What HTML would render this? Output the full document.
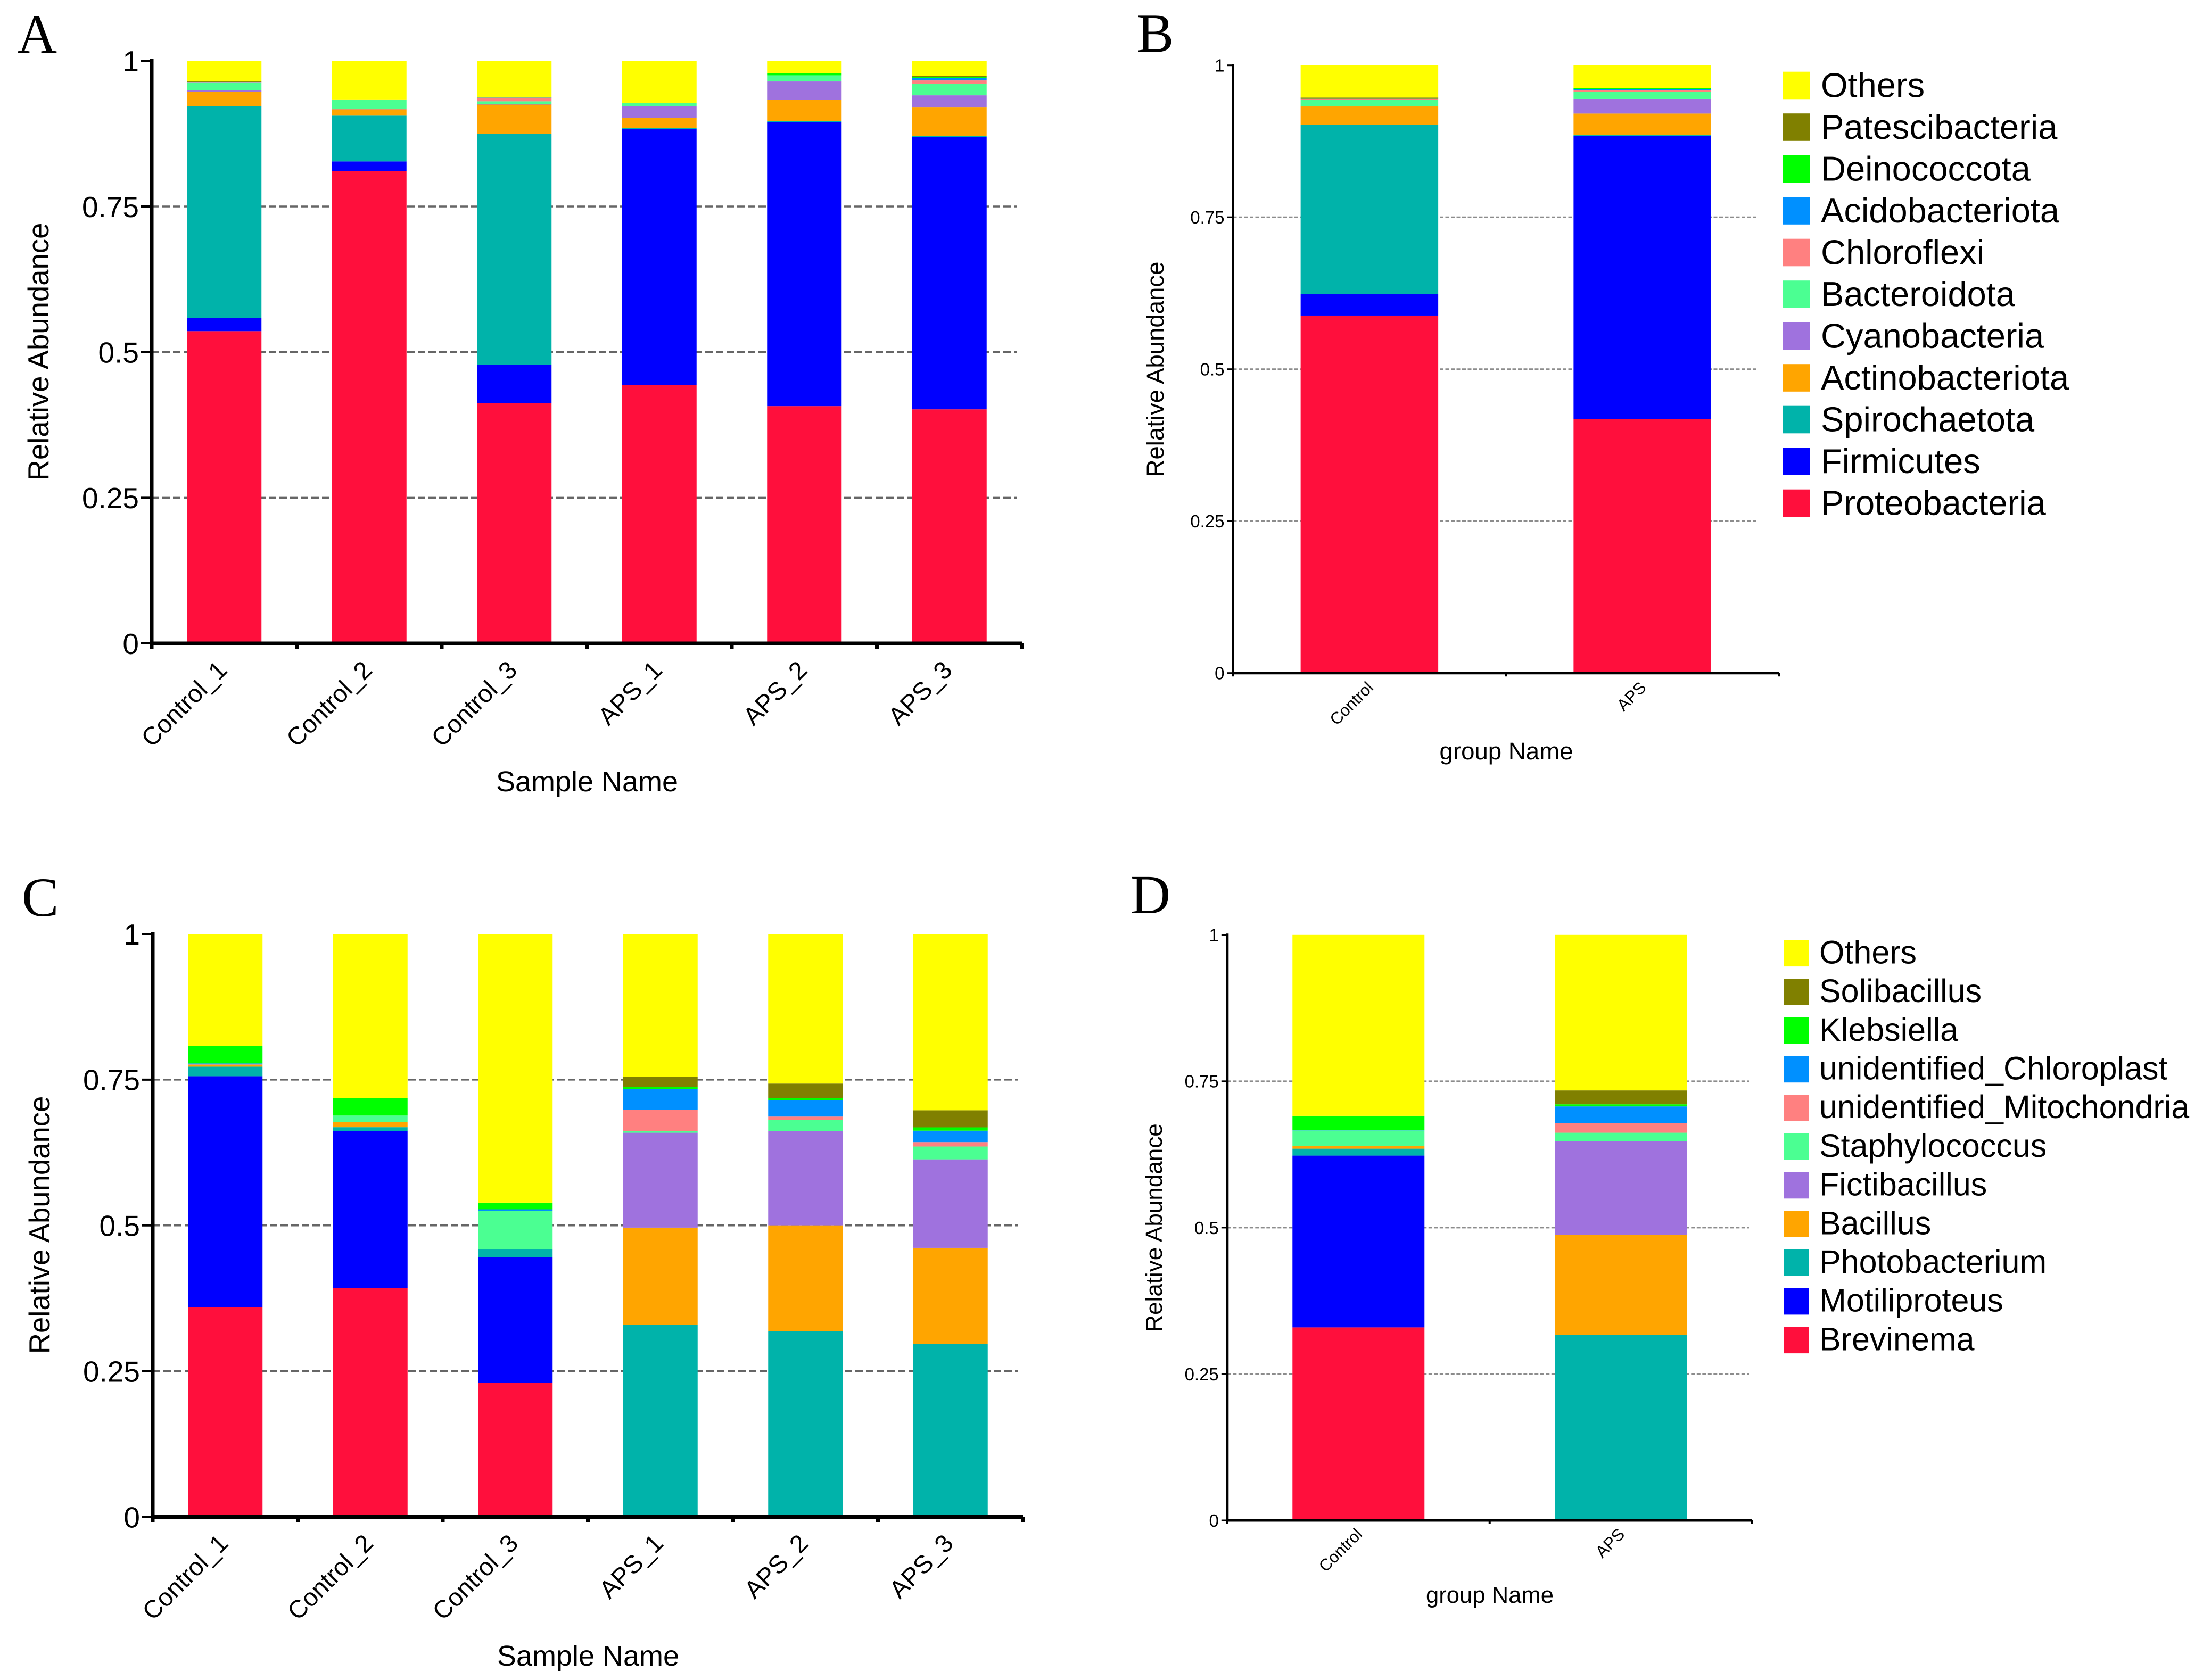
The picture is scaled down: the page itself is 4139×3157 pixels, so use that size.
<!DOCTYPE html>
<html lang="en">
<head>
<meta charset="utf-8">
<title>Relative abundance stacked bar charts</title>
<style>
html,body{margin:0;padding:0;background:#fff;}
body{width:4139px;height:3157px;overflow:hidden;}
svg{display:block;}
text{font-family:"Liberation Sans",Arial,sans-serif;fill:#000;}
.panel-letter{font-family:"Liberation Serif","Times New Roman",serif;}
</style>
</head>
<body>
<svg id="figure" xmlns="http://www.w3.org/2000/svg" width="4139" height="3157" viewBox="0 0 4139 3157"></svg>
<script>
// ---------- shared ----------
const yTickValues = [0, 0.25, 0.5, 0.75, 1];
const yTickLabels = ['0', '0.25', '0.5', '0.75', '1'];
const sampleNames = ['Control_1', 'Control_2', 'Control_3', 'APS_1', 'APS_2', 'APS_3'];
const groupNames = ['Control', 'APS'];
const seriesColors = ['#ff0f3c', '#0000ff', '#00b3aa', '#ffa500', '#9f72de', '#4bff92', '#ff8080', '#0090ff', '#00ff00', '#808000', '#ffff00'];
const phylumNames = ['Proteobacteria', 'Firmicutes', 'Spirochaetota', 'Actinobacteriota', 'Cyanobacteria', 'Bacteroidota', 'Chloroflexi', 'Acidobacteriota', 'Deinococcota', 'Patescibacteria', 'Others'];
const genusNames = ['Brevinema', 'Motiliproteus', 'Photobacterium', 'Bacillus', 'Fictibacillus', 'Staphylococcus', 'unidentified_Mitochondria', 'unidentified_Chloroplast', 'Klebsiella', 'Solibacillus', 'Others'];

// ---------- panel A: phylum by sample ----------
const aProteobacteria = [0.536, 0.811, 0.4127, 0.4436, 0.4073, 0.4018];
const aFirmicutes = [0.023, 0.0164, 0.0653, 0.4389, 0.488, 0.4679];
const aSpirochaetota = [0.3634, 0.0786, 0.3969, 0.002, 0.0018, 0.0016];
const aActinobacteriota = [0.0243, 0.0109, 0.0501, 0.0178, 0.0365, 0.0486];
const aCyanobacteria = [0.003, 0.0005, 0.0006, 0.0201, 0.0311, 0.021];
const aBacteroidota = [0.0125, 0.0162, 0.005, 0.0057, 0.0106, 0.0202];
const aChloroflexi = [0.0005, 0.0002, 0.0061, 0, 0, 0.0054];
const aAcidobacteriota = [0.0003, 0, 0.0002, 0, 0, 0.0046];
const aDeinococcota = [0.0002, 0, 0.0002, 0, 0.004, 0.001];
const aPatescibacteria = [0.0015, 0, 0.0002, 0, 0, 0.002];
const aOthers = [0.0353, 0.0662, 0.0627, 0.0719, 0.0207, 0.0259];

// ---------- panel B: phylum by group ----------
const bProteobacteria = [0.5882, 0.418];
const bFirmicutes = [0.035, 0.4655];
const bSpirochaetota = [0.2791, 0.0015];
const bActinobacteriota = [0.03, 0.0356];
const bCyanobacteria = [0.0003, 0.024];
const bBacteroidota = [0.0103, 0.0116];
const bChloroflexi = [0.0018, 0.003];
const bAcidobacteriota = [0.0001, 0.002];
const bDeinococcota = [0.0001, 0.0012];
const bPatescibacteria = [0.002, 0.0002];
const bOthers = [0.0531, 0.0374];

// ---------- panel C: genus by sample ----------
const cBrevinema = [0.3599, 0.3926, 0.2303, 0, 0, 0];
const cMotiliproteus = [0.396, 0.2689, 0.2148, 0, 0, 0];
const cPhotobacterium = [0.0164, 0.007, 0.0145, 0.3291, 0.3182, 0.2965];
const cBacillus = [0.0035, 0.0088, 0, 0.1671, 0.1819, 0.165];
const cFictibacillus = [0.0005, 0.0002, 0, 0.1628, 0.1614, 0.1518];
const cStaphylococcus = [0.0005, 0.011, 0.0656, 0.0031, 0.0192, 0.022];
const cMitochondria = [0.0005, 0, 0, 0.0359, 0.006, 0.0076];
const cChloroplast = [0.0006, 0, 0.0024, 0.036, 0.028, 0.0196];
const cKlebsiella = [0.0304, 0.0298, 0.0115, 0.0037, 0.0036, 0.0057];
const cSolibacillus = [0, 0, 0, 0.0172, 0.025, 0.0293];
const cOthers = [0.1917, 0.2817, 0.4609, 0.2451, 0.2567, 0.3025];

// ---------- panel D: genus by group ----------
const dBrevinema = [0.3296, 0];
const dMotiliproteus = [0.2934, 0];
const dPhotobacterium = [0.0118, 0.3166];
const dBacillus = [0.0049, 0.1713];
const dFictibacillus = [0, 0.1594];
const dStaphylococcus = [0.0263, 0.0148];
const dMitochondria = [0, 0.0164];
const dChloroplast = [0.001, 0.0285];
const dKlebsiella = [0.0239, 0.0036];
const dSolibacillus = [0, 0.0237];
const dOthers = [0.3091, 0.2657];

const aSeries = [aProteobacteria, aFirmicutes, aSpirochaetota, aActinobacteriota, aCyanobacteria, aBacteroidota, aChloroflexi, aAcidobacteriota, aDeinococcota, aPatescibacteria, aOthers];
const bSeries = [bProteobacteria, bFirmicutes, bSpirochaetota, bActinobacteriota, bCyanobacteria, bBacteroidota, bChloroflexi, bAcidobacteriota, bDeinococcota, bPatescibacteria, bOthers];
const cSeries = [cBrevinema, cMotiliproteus, cPhotobacterium, cBacillus, cFictibacillus, cStaphylococcus, cMitochondria, cChloroplast, cKlebsiella, cSolibacillus, cOthers];
const dSeries = [dBrevinema, dMotiliproteus, dPhotobacterium, dBacillus, dFictibacillus, dStaphylococcus, dMitochondria, dChloroplast, dKlebsiella, dSolibacillus, dOthers];

const svg = document.getElementById('figure');
const NS = 'http://www.w3.org/2000/svg';

function make(tag, attrs, parent, content) {
  const node = document.createElementNS(NS, tag);
  for (const k in attrs) node.setAttribute(k, attrs[k]);
  if (content !== undefined) node.textContent = content;
  parent.appendChild(node);
  return node;
}
function kebab(s) {
  return s.toLowerCase().replace(/[^a-z0-9]+/g, '-');
}

function drawPanel(cfg) {
  const p = cfg.prefix;
  const g = make('g', {}, svg);
  
  

  const band = (cfg.x1 - cfg.x0) / cfg.categories.length;
  const xCenter = i => cfg.x0 + band * (i + 0.5) + (cfg.barShift || 0);
  const yPos = v => cfg.y0 - v * (cfg.y0 - cfg.yTop);

  const letter = make('text', { x: cfg.letterX, y: cfg.letterY, 'font-size': cfg.letterSize, class: 'panel-letter' }, g, cfg.letter);
  
  

  // gridlines
  yTickValues.forEach((v, i) => {
    if (v === 0 || v === 1) return;
    const line = make('line', { x1: cfg.x0, x2: cfg.gridEnd, y1: yPos(v), y2: yPos(v), stroke: cfg.gridColor, 'stroke-width': cfg.gridWidth, 'stroke-dasharray': cfg.gridDash }, g);
    
    
  });

  // stacked bars
  cfg.categories.forEach((cat, i) => {
    let cum = 0;
    cfg.series.forEach((values, s) => {
      const top = cum + values[i];
      const rect = make('rect', { x: xCenter(i) - cfg.barWidth / 2, y: yPos(top), width: cfg.barWidth, height: Math.max(0, yPos(cum) - yPos(top)), fill: seriesColors[s] }, g);
      
      
      cum = top;
    });
  });

  // axes
  const yAxis = make('line', { x1: cfg.x0, x2: cfg.x0, y1: cfg.yTop - cfg.axisWidth / 2, y2: cfg.y0 + cfg.axisWidth / 2, stroke: '#000', 'stroke-width': cfg.axisWidth }, g);
  
  
  const xAxis = make('line', { x1: cfg.x0 - cfg.axisWidth / 2, x2: cfg.x1, y1: cfg.y0, y2: cfg.y0, stroke: '#000', 'stroke-width': cfg.axisWidth }, g);
  
  

  // y ticks
  yTickValues.forEach((v, i) => {
    const tick = make('line', { x1: cfg.x0 - cfg.tickLen, x2: cfg.x0, y1: yPos(v), y2: yPos(v), stroke: '#000', 'stroke-width': cfg.tickWidth }, g);
    
    
    const label = make('text', { x: cfg.x0 - cfg.yLabelGap, y: yPos(v) + cfg.yTickSize * 0.36, 'font-size': cfg.yTickSize, 'text-anchor': 'end' }, g, yTickLabels[i]);
    
    
  });

  // x ticks
  for (let i = 0; i <= cfg.categories.length; i++) {
    const tx = cfg.x0 + band * i;
    const tick = make('line', { x1: tx, x2: tx, y1: cfg.y0, y2: cfg.y0 + cfg.axisWidth / 2 + cfg.xTickLen, stroke: '#000', 'stroke-width': cfg.xTickWidth }, g);
    
    
  }

  // x labels
  cfg.categories.forEach((cat, i) => {
    const lx = xCenter(i) + cfg.xLabelDx;
    const ly = cfg.xLabelY;
    const label = make('text', { x: lx, y: ly, 'font-size': cfg.xLabelSize, 'text-anchor': 'end', transform: 'rotate(-45 ' + lx + ' ' + ly + ')' }, g, cat);
    
    
  });

  // titles
  const xTitle = make('text', { x: cfg.xTitleX, y: cfg.xTitleY, 'font-size': cfg.xTitleSize, 'text-anchor': 'middle' }, g, cfg.xTitle);
  
  
  const yTitle = make('text', { x: cfg.yTitleX, y: cfg.yTitleY, 'font-size': cfg.yTitleSize, 'text-anchor': 'middle', transform: 'rotate(-90 ' + cfg.yTitleX + ' ' + cfg.yTitleY + ')' }, g, 'Relative Abundance');
  
  

  // legend
  if (cfg.legend) {
    const L = cfg.legend;
    const lg = make('g', {}, g);
    
    
    const n = cfg.names.length;
    for (let s = n - 1; s >= 0; s--) {
      const row = n - 1 - s;
      const swatch = make('rect', { x: L.x, y: L.y + row * L.pitch, width: L.size, height: L.sizeY, fill: seriesColors[s] }, lg);
      
      
      const label = make('text', { x: L.textX, y: L.y + row * L.pitch + L.baseline, 'font-size': L.fontSize }, lg, cfg.names[s]);
      
      
    }
  }
}

const sampleStyle = {
  barWidth: 140, axisWidth: 7, tickWidth: 4, xTickWidth: 7, tickLen: 20, xTickLen: 7, yLabelGap: 24, yTickSize: 55,
  gridColor: '#666', gridWidth: 3.5, gridDash: '14 6',
  xLabelSize: 47, xLabelDx: 8, xTitleSize: 54, yTitleSize: 54.5, letterSize: 104
};
const groupStyle = {
  axisWidth: 5, tickWidth: 3, xTickWidth: 4, tickLen: 11, xTickLen: 4, yLabelGap: 16, yTickSize: 33,
  gridColor: '#8c8c8c', gridWidth: 3, gridDash: '7 3.5',
  xLabelSize: 31, xLabelDx: 9, letterSize: 104
};

drawPanel(Object.assign({}, sampleStyle, {
  prefix: 'a', letter: 'A', letterX: 32, letterY: 99,
  x0: 285, x1: 1920, yTop: 114.4, y0: 1209, gridEnd: 1911,
  categories: sampleNames, series: aSeries, names: phylumNames,
  xLabelY: 1262, xTitle: 'Sample Name', xTitleX: 1103, xTitleY: 1487, yTitleX: 91, yTitleY: 661
}));

drawPanel(Object.assign({}, groupStyle, {
  prefix: 'b', letter: 'B', letterX: 2136, letterY: 97.5,
  x0: 2316.5, x1: 3342, yTop: 122.7, y0: 1264.7, gridEnd: 3302, barWidth: 258.5,
  categories: groupNames, series: bSeries, names: phylumNames,
  xLabelY: 1294, xTitle: 'group Name', xTitleX: 2830, xTitleY: 1427, xTitleSize: 45.6, yTitleX: 2186, yTitleY: 694, yTitleSize: 45.5,
  legend: { x: 3350, y: 134.7, size: 51, sizeY: 51.6, pitch: 78.5, textX: 3421, baseline: 48, fontSize: 65 }
}));

drawPanel(Object.assign({}, sampleStyle, {
  prefix: 'c', letter: 'C', letterX: 41, letterY: 1721,
  x0: 287, x1: 1922, yTop: 1755, y0: 2850.5, gridEnd: 1913,
  categories: sampleNames, series: cSeries, names: genusNames,
  xLabelY: 2903, xTitle: 'Sample Name', xTitleX: 1105, xTitleY: 3130, yTitleX: 93, yTitleY: 2302
}));

drawPanel(Object.assign({}, groupStyle, {
  prefix: 'd', letter: 'D', letterX: 2124, letterY: 1716,
  x0: 2305.8, x1: 3291.7, yTop: 1756.8, y0: 2857, gridEnd: 3286, barWidth: 248,
  categories: groupNames, series: dSeries, names: genusNames,
  xLabelY: 2885, xTitle: 'group Name', xTitleX: 2799, xTitleY: 3012, xTitleSize: 43.6, yTitleX: 2183, yTitleY: 2307, yTitleSize: 44,
  legend: { x: 3351.6, y: 1766.4, size: 47, sizeY: 49.7, pitch: 72.7, textX: 3418, baseline: 44, fontSize: 61 }
}));
</script>
</body>
</html>
